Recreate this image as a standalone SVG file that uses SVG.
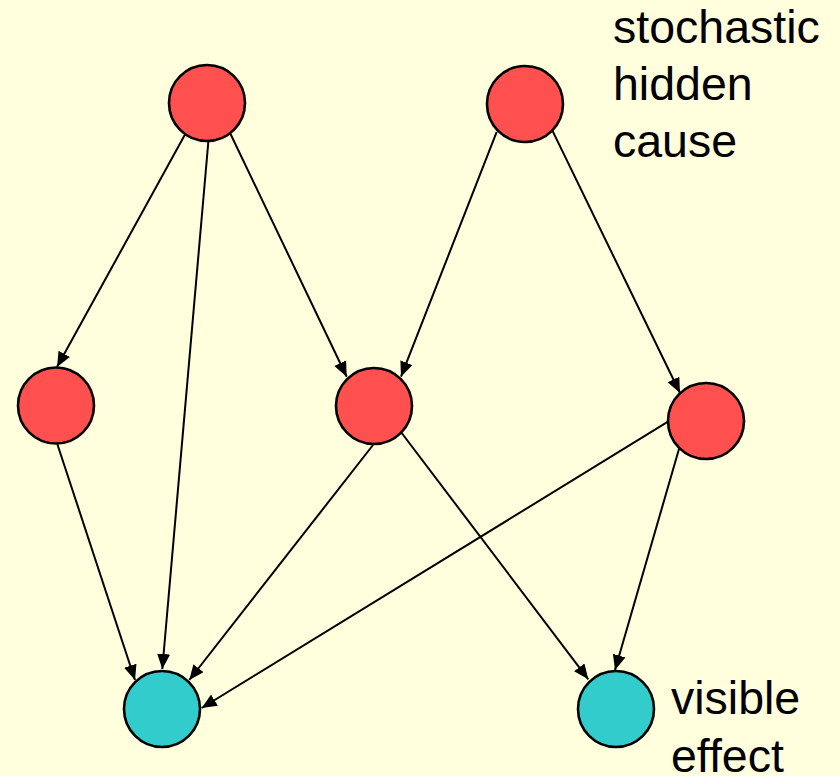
<svg xmlns="http://www.w3.org/2000/svg" width="840" height="776" viewBox="0 0 840 776">
<defs>
<style>
.hid{fill:#FF5050;stroke:#000;stroke-width:2.6}
.vis{fill:#33CCCC;stroke:#000;stroke-width:2.6}
.edge{stroke:#000;stroke-width:2;fill:none;marker-end:url(#arr)}
.lbl{font-family:"Liberation Sans",Arial,sans-serif;font-size:46.5px;fill:#000}
</style>
<marker id="arr" markerUnits="userSpaceOnUse" markerWidth="16" markerHeight="14" refX="15" refY="6.5" orient="auto">
<path d="M0,0 L15,6.5 L0,13 z" fill="#000"/>
</marker>
</defs>
<rect width="840" height="776" fill="#FFFFDD"/>
<g id="connectors">
<line class="edge" x1="185.3" y1="134.1" x2="57" y2="367"/>
<line class="edge" x1="208.4" y1="141" x2="162.3" y2="669"/>
<line class="edge" x1="230.3" y1="133.5" x2="346.7" y2="376.7"/>
<line class="edge" x1="496.7" y1="131.8" x2="401" y2="376.7"/>
<line class="edge" x1="552.3" y1="130.4" x2="680" y2="393"/>
<line class="edge" x1="57.3" y1="444" x2="135" y2="680"/>
<line class="edge" x1="373" y1="445" x2="189.3" y2="680"/>
<line class="edge" x1="401.7" y1="433" x2="588.3" y2="679.3"/>
<line class="edge" x1="668" y1="421.7" x2="201.7" y2="708"/>
<line class="edge" x1="679" y1="449" x2="615" y2="670"/>
</g>
<g id="n-top-left"><circle class="hid" cx="207" cy="103" r="38"/></g>
<g id="n-top-right"><circle class="hid" cx="525" cy="104" r="38"/></g>
<g id="n-mid-left"><circle class="hid" cx="56" cy="405.5" r="38"/></g>
<g id="n-mid-center"><circle class="hid" cx="374" cy="406" r="38"/></g>
<g id="n-mid-right"><circle class="hid" cx="706" cy="421" r="38"/></g>
<g id="n-bot-left"><circle class="vis" cx="162" cy="709" r="38"/></g>
<g id="n-bot-right"><circle class="vis" cx="616" cy="709" r="38"/></g>
<g id="label-hidden">
<text class="lbl" x="613" y="43">stochastic</text>
<text class="lbl" x="613" y="100">hidden</text>
<text class="lbl" x="613" y="157">cause</text>
</g>
<g id="label-visible">
<text class="lbl" x="671" y="714">visible</text>
<text class="lbl" x="671" y="772">effect</text>
</g>
</svg>
